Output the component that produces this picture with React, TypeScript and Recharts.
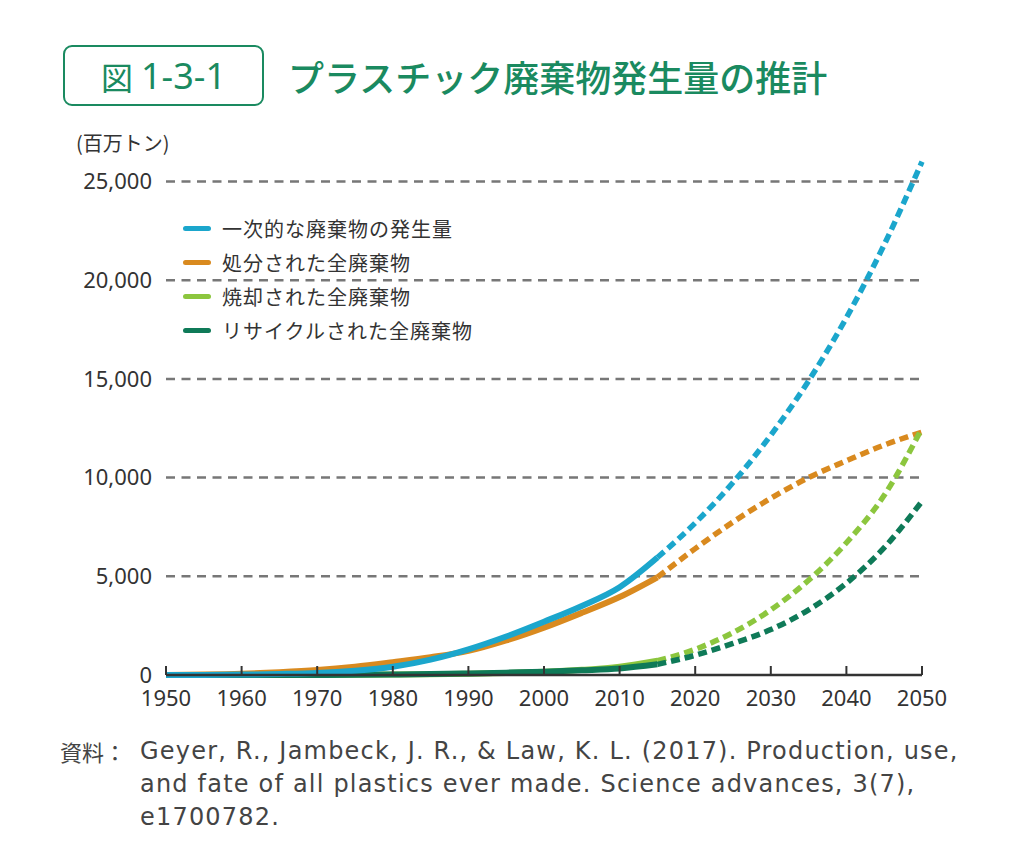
import React from "react";
import {
  CartesianGrid,
  Legend,
  Line,
  LineChart,
  XAxis,
  YAxis,
} from "recharts";

// 年
const years = [
  1950, 1955, 1960, 1965, 1970, 1975, 1980, 1985, 1990, 1995, 2000, 2005,
  2010, 2015, 2020, 2025, 2030, 2035, 2040, 2045, 2050,
];
// 一次的な廃棄物の発生量（百万トン）
const primaryWaste = [
  0, 5, 20, 50, 100, 220, 420, 780, 1300, 1950, 2700, 3500, 4450, 5950, 7700,
  9750, 12150, 14900, 18100, 21800, 26000,
];
// 処分された全廃棄物
const discarded = [
  0, 20, 60, 140, 250, 420, 650, 900, 1220, 1750, 2400, 3150, 3950, 4950,
  6400, 7750, 8950, 10000, 10850, 11650, 12300,
];
// 焼却された全廃棄物
const incinerated = [
  0, 0, 0, 0, 5, 10, 20, 35, 60, 100, 160, 260, 420, 720, 1300, 2150, 3300,
  4800, 6700, 9100, 12500,
];
// リサイクルされた全廃棄物
const recycled = [
  0, 0, 0, 0, 5, 10, 25, 45, 80, 120, 170, 240, 330, 540, 1000, 1600, 2300,
  3300, 4650, 6450, 8800,
];
// ここから先は推計（破線）
const splitYear = 2015;

const xTicks = [1950, 1960, 1970, 1980, 1990, 2000, 2010, 2020, 2030, 2040, 2050];
const yTicks = [0, 5000, 10000, 15000, 20000, 25000];
const gridValues = [5000, 10000, 15000, 20000, 25000];

const series = [
  { key: "primary", name: "一次的な廃棄物の発生量", color: "#1ba6cc", values: primaryWaste },
  { key: "discarded", name: "処分された全廃棄物", color: "#d98a1f", values: discarded },
  { key: "incinerated", name: "焼却された全廃棄物", color: "#8cc63e", values: incinerated },
  { key: "recycled", name: "リサイクルされた全廃棄物", color: "#0f7a58", values: recycled },
];

// 描画順（下から）
const drawOrder = ["discarded", "incinerated", "recycled", "primary"];

const data = years.map((year, i) => {
  const row: Record<string, number | null> = { year };
  series.forEach((s) => {
    row[s.key + "Solid"] = year <= splitYear ? s.values[i] : null;
    row[s.key + "Dash"] = year >= splitYear ? s.values[i] : null;
  });
  return row;
});

const GREEN = "#1a8a60";
const TEXT = "#333";
const FONT = "'Noto Sans', 'Noto Sans CJK JP', sans-serif";
const JP = "'Noto Sans CJK JP', sans-serif";

const XTick = ({ x, y, payload }: any) => (
  <g>
    <line x1={x} x2={x} y1={y} y2={y - 9} stroke={TEXT} strokeWidth={2} />
    <text x={x} y={y + 31} textAnchor="middle" fontSize={22} fill={TEXT}>
      {payload.value}
    </text>
  </g>
);

const LegendBox = () => (
  <div style={{ fontFamily: JP }}>
    {series.map((s) => (
      <div
        key={s.key}
        style={{ display: "flex", alignItems: "center", height: 34 }}
      >
        <span
          style={{
            display: "inline-block",
            width: 28,
            height: 5,
            borderRadius: 3,
            background: s.color,
            marginRight: 11,
          }}
        />
        <span style={{ fontSize: 20, color: TEXT, letterSpacing: 1 }}>
          {s.name}
        </span>
      </div>
    ))}
  </div>
);

export default function App() {
  return (
    <div
      style={{
        position: "absolute",
        left: 0,
        top: 0,
        width: 1012,
        height: 864,
        background: "#fff",
        fontFamily: FONT,
        color: TEXT,
      }}
    >
      <div
        style={{
          position: "absolute",
          left: 63,
          top: 45,
          width: 197,
          height: 57,
          border: `2.5px solid ${GREEN}`,
          borderRadius: 9,
          color: GREEN,
          fontSize: 36,
          display: "flex",
          alignItems: "center",
          justifyContent: "center",
        }}
      >
        <span style={{ fontFamily: JP, fontSize: 32, marginRight: 8 }}>図</span>
        1-3-1
      </div>
      <div
        style={{
          position: "absolute",
          left: 288,
          top: 51,
          fontSize: 36,
          color: GREEN,
          fontWeight: 500,
          lineHeight: "50px",
          fontFamily: JP,
        }}
      >
        プラスチック廃棄物発生量の推計
      </div>
      <div
        style={{
          position: "absolute",
          left: 76,
          top: 128,
          fontSize: 20,
          lineHeight: "30px",
          fontFamily: JP,
        }}
      >
        (百万トン)
      </div>

      <LineChart
        width={1012}
        height={864}
        data={data}
        margin={{ top: 142, right: 90, bottom: 149, left: 66 }}
      >
        <CartesianGrid
          vertical={false}
          horizontalValues={gridValues}
          stroke="#777"
          strokeWidth={2.5}
          strokeDasharray="9 6.5"
        />
        <XAxis
          dataKey="year"
          type="number"
          domain={[1950, 2050]}
          ticks={xTicks}
          height={40}
          tickSize={0}
          tickMargin={0}
          tick={<XTick />}
          axisLine={{ stroke: TEXT, strokeWidth: 2.5 }}
          tickLine={false}
        />
        <YAxis
          type="number"
          domain={[0, 27000]}
          ticks={yTicks}
          width={100}
          tickLine={false}
          axisLine={false}
          tickSize={0}
          tickMargin={14}
          tickFormatter={(v: number) => v.toLocaleString("en-US")}
          tick={{ fontSize: 22, fill: TEXT }}
        />
        <Legend
          verticalAlign="middle"
          align="center"
          layout="vertical"
          wrapperStyle={{ left: 183, top: 211, width: 320 }}
          content={<LegendBox />}
        />
        {drawOrder.map((k) => {
          const s = series.find((v) => v.key === k)!;
          return [
            <Line
              key={k + "Solid"}
              type="monotone"
              dataKey={k + "Solid"}
              name={s.name}
              stroke={s.color}
              strokeWidth={6}
              dot={false}
              activeDot={false}
              connectNulls={false}
              isAnimationActive={false}
            />,
            <Line
              key={k + "Dash"}
              type="monotone"
              dataKey={k + "Dash"}
              name={s.name}
              legendType="none"
              stroke={s.color}
              strokeWidth={5.5}
              strokeDasharray="9 5"
              dot={false}
              activeDot={false}
              connectNulls={false}
              isAnimationActive={false}
            />,
          ];
        })}
      </LineChart>

      <div
        style={{
          position: "absolute",
          left: 60,
          top: 735,
          fontSize: 24,
          lineHeight: "33px",
          color: "#444",
          display: "flex",
        }}
      >
        <span style={{ width: 80, flexShrink: 0, fontFamily: JP, fontSize: 22 }}>
          資料：
        </span>
        <span
          style={{
            fontFamily: "'DejaVu Sans', sans-serif",
            whiteSpace: "nowrap",
            letterSpacing: 1.2,
          }}
        >
          Geyer, R., Jambeck, J. R., &amp; Law, K. L. (2017). Production, use,
          <br />
          and fate of all plastics ever made. Science advances, 3(7),
          <br />
          e1700782.
        </span>
      </div>
    </div>
  );
}
